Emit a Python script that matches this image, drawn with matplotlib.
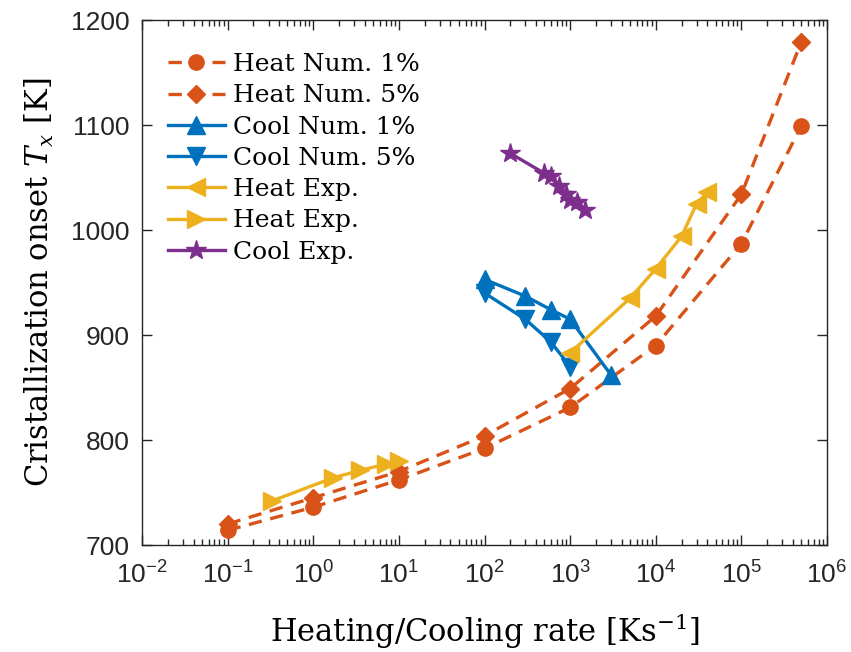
import matplotlib
matplotlib.use("Agg")
import matplotlib.pyplot as plt
from matplotlib.ticker import FixedLocator, FixedFormatter, LogLocator, NullFormatter

# data
rate_num = [0.1, 1, 10, 100, 1e3, 1e4, 1e5, 5e5]
heat_num_1 = [714, 736, 762, 792, 831, 890, 987, 1099]
heat_num_5 = [720, 745, 770, 804, 849, 918, 1034, 1179]

rate_cool_1 = [100, 300, 600, 1000, 3000]
cool_num_1 = [953, 937, 924, 915, 862]
rate_cool_5 = [100, 300, 600, 1000]
cool_num_5 = [940, 915, 893, 870]

rate_heat_exp_hi = [1000, 5000, 1e4, 2e4, 3e4, 4e4]
heat_exp_hi = [883, 935, 963, 994, 1025, 1036]
rate_heat_exp_lo = [0.33, 1.7, 3.5, 7, 10]
heat_exp_lo = [742, 764, 771, 777, 780]

rate_cool_exp = [200, 500, 600, 750, 900, 1000, 1200, 1500]
cool_exp = [1073, 1054, 1051, 1042, 1034, 1029, 1027, 1019]

xticks = [1e-2, 1e-1, 1, 10, 1e2, 1e3, 1e4, 1e5, 1e6]
xtick_labels = [r"$\mathregular{10^{%d}}$" % e for e in range(-2, 7)]
yticks = [700, 800, 900, 1000, 1100, 1200]

orange = "#D95319"
blue = "#0072BD"
yellow = "#EDB120"
purple = "#7E2F8E"

plt.rcParams["font.family"] = ["Liberation Sans", "DejaVu Sans"]
plt.rcParams["mathtext.fontset"] = "dejavuserif"

fig = plt.figure(figsize=(8.51, 6.52), dpi=100)
ax = fig.add_axes([0.1669, 0.1641, 0.8049, 0.8052])

lw = 2.4
ax.plot(rate_num, heat_num_1, "--", color=orange, lw=lw, marker="o", ms=11,
        dashes=(4, 2.6), label="Heat Num. 1%")
ax.plot(rate_num, heat_num_5, "--", color=orange, lw=lw, marker="D", ms=9,
        dashes=(4, 2.6), label="Heat Num. 5%")
ax.plot(rate_cool_1, cool_num_1, "-", color=blue, lw=lw, marker="^", ms=13,
        label="Cool Num. 1%")
ax.plot(rate_cool_5, cool_num_5, "-", color=blue, lw=lw, marker="v", ms=13,
        label="Cool Num. 5%")
ax.plot(rate_heat_exp_hi, heat_exp_hi, "-", color=yellow, lw=lw, marker="<", ms=13,
        label="Heat Exp.")
ax.plot(rate_heat_exp_lo, heat_exp_lo, "-", color=yellow, lw=lw, marker=">", ms=13,
        label="Heat Exp.")
ax.plot(rate_cool_exp, cool_exp, "-", color=purple, lw=lw, marker="*", ms=15,
        label="Cool Exp.")

ax.set_xscale("log")
ax.set_xlim(1e-2, 1e6)
ax.set_ylim(700, 1200)
ax.xaxis.set_major_locator(FixedLocator(xticks))
ax.xaxis.set_major_formatter(FixedFormatter(xtick_labels))
ax.xaxis.set_minor_locator(LogLocator(base=10, subs=range(2, 10), numticks=20))
ax.xaxis.set_minor_formatter(NullFormatter())
ax.set_yticks(yticks)

ax.tick_params(which="both", direction="in", top=True, right=True,
               labelsize=19, colors="#262626", width=1)
ax.tick_params(which="major", length=7)
ax.tick_params(axis="y", pad=9)
ax.tick_params(axis="x", pad=12)
ax.tick_params(which="minor", length=4)
for s in ax.spines.values():
    s.set_color("#262626")
    s.set_linewidth(1)

ax.set_xlabel(r"Heating/Cooling rate $[\mathrm{Ks}^{-1}]$",
              family="DejaVu Serif", fontsize=22, labelpad=16)
ax.set_ylabel(r"Cristallization onset $T_x$ [K]",
              family="DejaVu Serif", fontsize=22, labelpad=11)

ax.legend(loc="upper left", frameon=False, prop={"family": "DejaVu Serif", "size": 18},
          handlelength=2.3, handletextpad=0.3, labelspacing=0.33,
          borderaxespad=0.4, bbox_to_anchor=(0.008, 0.975))

fig.savefig("out.png", dpi=100)
